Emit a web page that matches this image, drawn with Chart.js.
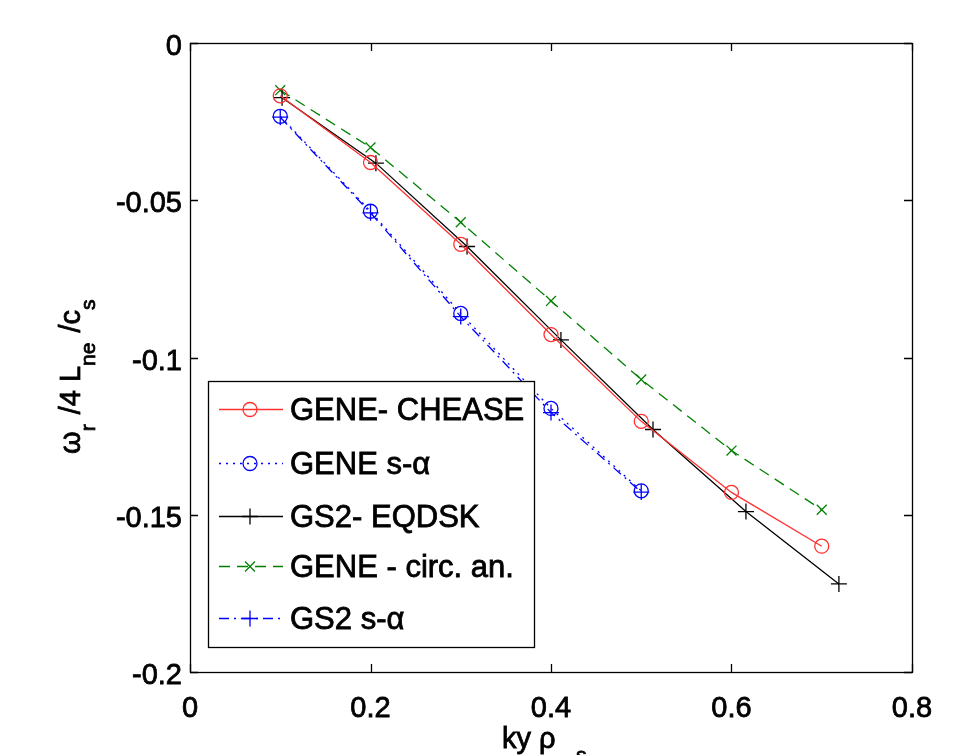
<!DOCTYPE html>
<html>
<head>
<meta charset="UTF-8">
<title>omega_r vs ky rho_s</title>
<script src="https://cdn.jsdelivr.net/npm/chart.js@4.4.7/dist/chart.umd.min.js"></script>
<style>
*{margin:0;padding:0;box-sizing:border-box}
html,body{width:954px;height:755px;background:#fff;overflow:hidden}
#wrap{position:relative;width:954px;height:755px}
</style>
</head>
<body>
<div id="wrap"><canvas id="ch" width="954" height="755"></canvas></div>
<script>
// values
const ky = [0.1, 0.2, 0.3, 0.4, 0.5, 0.6, 0.7];
const geneChease = [-0.0168, -0.038, -0.064, -0.0927, -0.1203, -0.1429, -0.160];
const kySa = [0.1, 0.2, 0.3, 0.4, 0.5];
const geneSa = [-0.0233, -0.0535, -0.086, -0.1162, -0.1424];
const kyGs2 = [0.102, 0.206, 0.307, 0.411, 0.513, 0.616, 0.719];
const gs2Eqdsk = [-0.0174, -0.0382, -0.0647, -0.0944, -0.1229, -0.149, -0.172];
const geneCirc = [-0.015, -0.0332, -0.057, -0.082, -0.107, -0.1296, -0.1484];
const gs2Sa = [-0.0236, -0.054, -0.087, -0.1175, -0.1428];

const xTicks = [0, 0.2, 0.4, 0.6, 0.8];
const xTickLabels = ['0', '0.2', '0.4', '0.6', '0.8'];
const yTicks = [0, -0.05, -0.1, -0.15, -0.2];
const yTickLabels = ['0', '-0.05', '-0.1', '-0.15', '-0.2'];

const FONT = '"Liberation Sans", Arial, sans-serif';
const TXT_STROKE = 0.8;

function pts(xs, ys) { return ys.map(function(v, i) { return { x: xs[i], y: v }; }); }

const datasets = [
  { label: 'GENE- CHEASE', data: pts(ky, geneChease), borderColor: '#ff3030', borderDash: [],
    pointStyle: 'circle', pointRadius: 7 },
  { label: 'GENE s-\u03b1', data: pts(kySa, geneSa), borderColor: '#0000ff', borderDash: [2, 5],
    pointStyle: 'circle', pointRadius: 7 },
  { label: 'GS2- EQDSK', data: pts(kyGs2, gs2Eqdsk), borderColor: '#000000', borderDash: [],
    pointStyle: 'cross', pointRadius: 8 },
  { label: 'GENE - circ. an.', data: pts(ky, geneCirc), borderColor: '#008000', borderDash: [11, 7],
    pointStyle: 'crossRot', pointRadius: 7 },
  { label: 'GS2 s-\u03b1', data: pts(kySa, gs2Sa), borderColor: '#0000ff', borderDash: [10, 5, 2, 5],
    pointStyle: 'cross', pointRadius: 8 }
];
datasets.forEach(function(d) {
  d.borderWidth = 1.3;
  d.tension = 0;
  d.fill = false;
  d.pointBorderColor = d.borderColor;
  d.pointBackgroundColor = 'rgba(0,0,0,0)';
  d.pointBorderWidth = 1.3;
});

function drawMarker(ctx, d, x, y) {
  if (Chart.helpers && Chart.helpers.drawPoint) {
    ctx.save();
    ctx.strokeStyle = d.borderColor;
    ctx.fillStyle = 'rgba(0,0,0,0)';
    ctx.lineWidth = d.pointBorderWidth;
    ctx.setLineDash([]);
    Chart.helpers.drawPoint(ctx, { pointStyle: d.pointStyle, radius: d.pointRadius, borderWidth: d.pointBorderWidth, rotation: 0 }, x, y);
    ctx.restore();
  }
}

function heavyText(ctx, s, x, y) {
  ctx.strokeStyle = '#000';
  ctx.lineWidth = TXT_STROKE;
  ctx.setLineDash([]);
  ctx.strokeText(s, x, y);
  ctx.fillText(s, x, y);
}

// box, inward ticks, legend, axis titles
const frame = {
  id: 'frame',
  afterDatasetsDraw: function(chart) {
    const ctx = chart.ctx, a = chart.chartArea, sx = chart.scales.x, sy = chart.scales.y;
    ctx.save();
    ctx.strokeStyle = '#000';
    ctx.lineWidth = 1.3;
    ctx.setLineDash([]);
    ctx.strokeRect(Math.round(a.left) + 0.5, Math.round(a.top) + 0.5, Math.round(a.right - a.left), Math.round(a.bottom - a.top));
    ctx.beginPath();
    xTicks.forEach(function(v) {
      const p = Math.round(sx.getPixelForValue(v)) + 0.5;
      ctx.moveTo(p, a.bottom); ctx.lineTo(p, a.bottom - 8);
      ctx.moveTo(p, a.top); ctx.lineTo(p, a.top + 8);
    });
    yTicks.forEach(function(v) {
      const p = Math.round(sy.getPixelForValue(v)) + 0.5;
      ctx.moveTo(a.left, p); ctx.lineTo(a.left + 8, p);
      ctx.moveTo(a.right, p); ctx.lineTo(a.right - 8, p);
    });
    ctx.stroke();

    // legend
    const L = { x: 208, y: 381, w: 326, h: 266 };
    ctx.fillStyle = '#fff';
    ctx.fillRect(L.x, L.y, L.w, L.h);
    ctx.strokeRect(L.x + 0.5, L.y + 0.5, L.w, L.h);
    const rows = [409, 463, 516, 566, 618];
    ctx.textBaseline = 'middle';
    ctx.textAlign = 'left';
    datasets.forEach(function(d, i) {
      const ry = rows[i] + 0.5;
      ctx.strokeStyle = d.borderColor;
      ctx.lineWidth = d.borderWidth;
      ctx.setLineDash(d.borderDash);
      ctx.beginPath();
      ctx.moveTo(219, ry); ctx.lineTo(283, ry);
      ctx.stroke();
      drawMarker(ctx, d, 250, ry);
      ctx.fillStyle = '#000';
      ctx.font = '31px ' + FONT;
      heavyText(ctx, d.label, 290, rows[i] + 2);
    });

    // y title: omega_r /4 L_ne /c_s
    ctx.fillStyle = '#000';
    ctx.textBaseline = 'alphabetic';
    const parts = [['\u03c9', 0], ['r', 1], [' /4 L', 0], ['ne', 1], [' /c', 0], ['s', 1]];
    function fontOf(sub) { return (sub ? '21px ' : '29px ') + FONT; }
    ctx.save();
    ctx.translate(80, 454);
    ctx.rotate(-Math.PI / 2);
    let cx = 0;
    parts.forEach(function(p) {
      ctx.font = fontOf(p[1]);
      heavyText(ctx, p[0], cx, p[1] ? 15 : 0);
      cx += ctx.measureText(p[0]).width + (p[1] ? 2 : 0);
    });
    ctx.restore();

    // x title: ky rho_s
    ctx.font = '29px ' + FONT;
    heavyText(ctx, 'ky \u03c1', 502, 748);
    ctx.font = '21px ' + FONT;
    heavyText(ctx, 's', 576, 762);
    ctx.restore();
  }
};

new Chart(document.getElementById('ch'), {
  type: 'line',
  data: { datasets: datasets },
  options: {
    responsive: false,
    animation: false,
    layout: { padding: { left: 0, right: 42, top: 43, bottom: 0 } },
    plugins: { legend: { display: false }, tooltip: { enabled: false } },
    scales: {
      x: {
        type: 'linear', min: 0, max: 0.8,
        afterBuildTicks: function(s) { s.ticks = xTicks.map(function(v) { return { value: v }; }); },
        afterFit: function(s) { s.height = 83; },
        grid: { display: false, drawTicks: false },
        border: { display: false },
        ticks: { color: '#000', font: { family: FONT, size: 29 }, padding: 20, maxRotation: 0,
          textStrokeColor: '#000', textStrokeWidth: TXT_STROKE,
          callback: function(v, i) { return xTickLabels[i]; } }
      },
      y: {
        type: 'linear', min: -0.2, max: 0,
        afterBuildTicks: function(s) { s.ticks = yTicks.map(function(v) { return { value: v }; }); },
        afterFit: function(s) { s.width = 190; },
        grid: { display: false, drawTicks: false },
        border: { display: false },
        ticks: { color: '#000', font: { family: FONT, size: 29 }, padding: 8, labelOffset: 4,
          textStrokeColor: '#000', textStrokeWidth: TXT_STROKE,
          callback: function(v, i) { return yTickLabels[i]; } }
      }
    }
  },
  plugins: [frame]
});
</script>
</body>
</html>
